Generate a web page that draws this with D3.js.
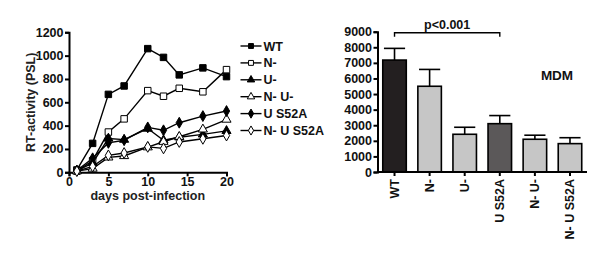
<!DOCTYPE html>
<html>
<head>
<meta charset="utf-8">
<script src="https://cdn.jsdelivr.net/npm/d3@7"></script>
<style>
  body { margin: 0; background: #fff; }
  svg { font-family: "Liberation Sans", Arial, sans-serif; font-weight: bold; }
</style>
</head>
<body>
<svg id="chart" width="600" height="256"></svg>
<script>
// time course: RT activity per virus
const days = [1, 3, 5, 7, 10, 12, 14, 17, 20];
const lineSeries = [
  { name: "WT",        shape: "square",   fill: "#000", values: [20, 248, 668, 740, 1060, 985, 835, 895, 820] },
  { name: "N-",        shape: "square",   fill: "#fff", values: [10, 100, 345, 458, 700, 652, 720, 690, 880] },
  { name: "U-",        shape: "triangle", fill: "#000", values: [12, 80, 290, 280, 375, 275, 300, 325, 355] },
  { name: "N- U-",     shape: "triangle", fill: "#fff", values: [10, 32, 128, 140, 215, 262, 305, 368, 452] },
  { name: "U S52A",    shape: "diamond",  fill: "#000", values: [15, 120, 252, 275, 385, 360, 425, 482, 525] },
  { name: "N- U S52A", shape: "diamond",  fill: "#fff", values: [10, 50, 145, 165, 218, 205, 260, 287, 315] }
];
const yTicksLine = [0, 200, 400, 600, 800, 1000, 1200];
const xTicksLine = [0, 5, 10, 15, 20];

// end-point RT activity, MDM
const barCats = ["WT", "N-", "U-", "U S52A", "N- U-", "N- U S52A"];
const barMeans = [7180, 5500, 2420, 3100, 2100, 1820];
const barErrs = [750, 1080, 450, 520, 260, 380];
const barColors = ["#231f20", "#c6c6c6", "#c6c6c6", "#5b5859", "#c6c6c6", "#c6c6c6"];
const yTicksBar = [0, 1000, 2000, 3000, 4000, 5000, 6000, 7000, 8000, 9000];

const FS = 12.5;
const svg = d3.select("#chart");

function styleAxis(g) {
  g.attr("font-family", null).attr("font-size", null);
  g.select(".domain").attr("stroke-width", 2);
  g.selectAll(".tick line").attr("stroke-width", 2);
  g.selectAll("text").attr("font-size", FS).attr("font-weight", "bold").attr("fill", "#111");
}

// ---------- left: line chart ----------
const x = d3.scaleLinear().domain([0, 20]).range([69, 226.5]);
const y = d3.scaleLinear().domain([0, 1200]).range([172.3, 32.3]);

const gxL = svg.append("g")
  .attr("transform", `translate(0,${y(0)})`)
  .call(d3.axisBottom(x).tickValues(xTicksLine).tickFormat(d3.format("d")).tickSize(4).tickPadding(1));
const gyL = svg.append("g")
  .attr("transform", `translate(${x(0)},0)`)
  .call(d3.axisLeft(y).tickValues(yTicksLine).tickFormat(d3.format("d")).tickSize(4).tickPadding(1.5));
styleAxis(gxL);
styleAxis(gyL);

svg.append("text")
  .attr("x", (x(0) + x(20)) / 2).attr("y", 199.5)
  .attr("text-anchor", "middle").attr("font-size", FS).attr("fill", "#222")
  .text("days post-infection");
svg.append("text")
  .attr("transform", `translate(34.5,${(y(0) + y(1200)) / 2}) rotate(-90)`)
  .attr("text-anchor", "middle").attr("font-size", FS).attr("fill", "#222")
  .text("RT-activity (PSL)");

const symbolType = { square: d3.symbolSquare, triangle: d3.symbolTriangle, diamond: d3.symbolDiamond };
const symbolSize = { square: 42, triangle: 36, diamond: 34 };

const line = d3.line().x((d, i) => x(days[i])).y(d => y(d));

lineSeries.forEach(s => {
  svg.append("path")
    .attr("d", line(s.values))
    .attr("fill", "none").attr("stroke", "#000").attr("stroke-width", 1.4);
});
lineSeries.forEach(s => {
  svg.selectAll(null)
    .data(s.values)
    .join("path")
    .attr("transform", (d, i) => `translate(${x(days[i])},${y(d)})`)
    .attr("d", d3.symbol().type(symbolType[s.shape]).size(symbolSize[s.shape])())
    .attr("fill", s.fill).attr("stroke", "#000").attr("stroke-width", 1);
});

// legend
const legend = svg.append("g");
lineSeries.forEach((s, i) => {
  const ly = 46 + i * 16.9;
  legend.append("line")
    .attr("x1", 240.5).attr("x2", 261.5).attr("y1", ly).attr("y2", ly)
    .attr("stroke", "#000").attr("stroke-width", 1.4);
  legend.append("path")
    .attr("transform", `translate(251,${ly})`)
    .attr("d", d3.symbol().type(symbolType[s.shape]).size(24)())
    .attr("fill", s.fill).attr("stroke", "#000").attr("stroke-width", 1);
  legend.append("text")
    .attr("x", 263.5).attr("y", ly + 4.5)
    .attr("font-size", FS).attr("fill", "#111")
    .text(s.name);
});

// ---------- right: bar chart ----------
const xb = d3.scaleBand().domain(barCats).range([377.5, 587]).paddingInner(0.33).paddingOuter(0.15);
const yb = d3.scaleLinear().domain([0, 9000]).range([172, 31.7]);

svg.selectAll(".err")
  .data(barCats)
  .join("g")
  .each(function (c, i) {
    const cx = xb(c) + xb.bandwidth() / 2;
    const top = yb(barMeans[i] + barErrs[i]);
    const g = d3.select(this);
    g.append("line").attr("x1", cx).attr("x2", cx)
      .attr("y1", yb(barMeans[i])).attr("y2", top)
      .attr("stroke", "#000").attr("stroke-width", 1.6);
    g.append("line").attr("x1", cx - xb.bandwidth() * 0.45).attr("x2", cx + xb.bandwidth() * 0.45)
      .attr("y1", top).attr("y2", top)
      .attr("stroke", "#000").attr("stroke-width", 1.6);
  });

svg.selectAll(".bar")
  .data(barCats)
  .join("rect")
  .attr("x", c => xb(c))
  .attr("width", xb.bandwidth())
  .attr("y", (c, i) => yb(barMeans[i]))
  .attr("height", (c, i) => yb(0) - yb(barMeans[i]))
  .attr("fill", (c, i) => barColors[i])
  .attr("stroke", "#000").attr("stroke-width", 1.6);

const gxB = svg.append("g")
  .attr("transform", `translate(0,${yb(0)})`)
  .call(d3.axisBottom(xb).tickSize(4).tickPadding(3).tickSizeOuter(0));
gxB.select(".domain").attr("d", `M${xb.range()[0]},0H${xb.range()[1]}`);
gxB.selectAll("text")
  .attr("transform", "rotate(-90)")
  .attr("text-anchor", "end")
  .attr("dy", "0.35em")
  .attr("x", -7).attr("y", 0);
const gyB = svg.append("g")
  .attr("transform", `translate(${xb.range()[0]},0)`)
  .call(d3.axisLeft(yb).tickValues(yTicksBar).tickFormat(d3.format("d")).tickSize(4).tickPadding(1.5));
styleAxis(gxB);
styleAxis(gyB);

// significance bracket WT vs U S52A
const bx1 = xb("WT") + xb.bandwidth() / 2;
const bx2 = xb("U S52A") + xb.bandwidth() / 2;
const by = 32.7;
svg.append("path")
  .attr("d", `M${bx1},${by + 4}V${by}H${bx2}V${by + 4}`)
  .attr("fill", "none").attr("stroke", "#000").attr("stroke-width", 1.4);
svg.append("text")
  .attr("x", (bx1 + bx2) / 2).attr("y", 29)
  .attr("text-anchor", "middle").attr("font-size", FS).attr("fill", "#111")
  .text("p<0.001");

svg.append("text")
  .attr("x", 557).attr("y", 79.5)
  .attr("text-anchor", "middle").attr("font-size", 13.5).attr("fill", "#111")
  .text("MDM");
</script>
</body>
</html>
